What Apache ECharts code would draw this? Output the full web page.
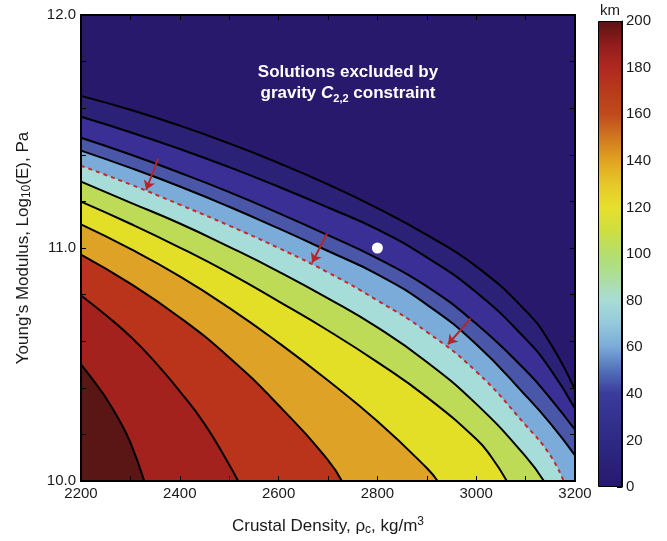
<!DOCTYPE html>
<html>
<head>
<meta charset="utf-8">
<script src="https://cdn.jsdelivr.net/npm/echarts@6/dist/echarts.min.js"></script>
<style>
  html, body { margin: 0; padding: 0; background: #fff; }
  #chart { width: 667px; height: 541px; }
</style>
</head>
<body>
<div id="chart"></div>
<script>
// contour lines: [crustal density, log10(E)], top-right to bottom-left
const lineA = [[2200, 11.653], [2300, 11.593], [2400, 11.525], [2500, 11.449], [2600, 11.365], [2700, 11.273], [2800, 11.171], [2900, 11.056], [3000, 10.921], [3100, 10.731], [3150, 10.591], [3200, 10.391]];
const lineB = [[2200, 11.563], [2300, 11.497], [2400, 11.425], [2500, 11.347], [2600, 11.263], [2700, 11.174], [2800, 11.080], [2900, 10.960], [3000, 10.810], [3100, 10.610], [3150, 10.480], [3200, 10.310]];
const lineC = [[2200, 11.473], [2300, 11.401], [2400, 11.323], [2500, 11.240], [2600, 11.150], [2700, 11.055], [2800, 10.955], [2900, 10.835], [3000, 10.675], [3100, 10.475], [3150, 10.355], [3200, 10.220]];
const lineD = [[2200, 11.418], [2300, 11.344], [2400, 11.264], [2500, 11.177], [2600, 11.084], [2700, 10.987], [2800, 10.887], [2900, 10.757], [3000, 10.587], [3100, 10.367], [3150, 10.247], [3200, 10.110]];
const lineE = [[2200, 11.353], [2300, 11.273], [2400, 11.186], [2500, 11.096], [2600, 11.000], [2700, 10.895], [2800, 10.775], [2900, 10.640], [3000, 10.470], [3100, 10.240], [3150, 10.110], [3177, 10.0]];
const lineF = [[2200, 11.285], [2300, 11.195], [2400, 11.105], [2500, 11.005], [2600, 10.899], [2700, 10.784], [2800, 10.659], [2900, 10.511], [3000, 10.331], [3100, 10.106], [3137, 10.0]];
const lineG = [[2200, 11.199], [2300, 11.104], [2400, 11.002], [2500, 10.892], [2600, 10.771], [2700, 10.646], [2800, 10.510], [2900, 10.360], [3000, 10.180], [3030, 10.105], [3062, 10.0]];
const lineH = [[2200, 11.101], [2300, 10.996], [2400, 10.878], [2500, 10.743], [2600, 10.593], [2700, 10.431], [2800, 10.256], [2900, 10.056], [2922, 10.0]];
const lineI = [[2200, 10.972], [2300, 10.847], [2400, 10.702], [2500, 10.530], [2600, 10.325], [2700, 10.090], [2728, 10.0]];
const lineJ = [[2200, 10.796], [2250, 10.712], [2300, 10.620], [2350, 10.510], [2400, 10.385], [2450, 10.245], [2500, 10.070], [2518, 10.0]];
const lineK = [[2200, 10.501], [2225, 10.432], [2250, 10.358], [2275, 10.270], [2300, 10.165], [2328, 10.0]];

// model point and arrows onto the dashed constraint
const modelPoint = [[2800, 11.0]];
const arrows = [
  [[2356, 11.383], [2332, 11.250]],
  [[2698, 11.062], [2668, 10.938]],
  [[2989, 10.698], [2943, 10.587]]
];

const contours = [lineA, lineB, lineC, lineD, lineE, lineF, lineG, lineH, lineI, lineJ, lineK];
// colour of the band below each contour
const bandColors = ['#2b2176', '#3a2f95', '#4a56a8', '#7aabd9', '#a6ddd8', '#bddb57', '#e3df26', '#dea326', '#b9341a', '#a4221e', '#5a1614'];
const topColor = '#28196c';
const FONT = 'Liberation Sans, Arial, sans-serif';

const chart = echarts.init(document.getElementById('chart'));

const contourSeries = contours.map((pts, i) => ({
  type: 'line',
  xAxisIndex: 0,
  yAxisIndex: 0,
  data: pts,
  smooth: 0.5,
  symbol: 'none',
  silent: true,
  lineStyle: i === 4
    ? { color: '#c8282c', width: 2, type: [4, 4] }
    : { color: '#000', width: 2 },
  areaStyle: { color: bandColors[i], opacity: 1, origin: 'start' },
  z: 2
}));

const colorbarGradient = new echarts.graphic.LinearGradient(0, 1, 0, 0, [
  { offset: 0.0, color: '#26196c' },
  { offset: 0.1, color: '#2e2a84' },
  { offset: 0.2, color: '#3a3b9c' },
  { offset: 0.25, color: '#5270b8' },
  { offset: 0.3, color: '#7aaad8' },
  { offset: 0.35, color: '#94c8dc' },
  { offset: 0.4, color: '#a8dcd6' },
  { offset: 0.45, color: '#acde9c' },
  { offset: 0.5, color: '#b4de6c' },
  { offset: 0.55, color: '#cede40' },
  { offset: 0.6, color: '#e6e02c' },
  { offset: 0.65, color: '#e6c828' },
  { offset: 0.7, color: '#e0a420' },
  { offset: 0.75, color: '#d07820' },
  { offset: 0.8, color: '#c04a1c' },
  { offset: 0.85, color: '#b83a1c' },
  { offset: 0.9, color: '#b02820' },
  { offset: 0.95, color: '#901c1c' },
  { offset: 1.0, color: '#5a1414' }
]);

const tickStyle = { show: true, inside: true, length: 5, lineStyle: { color: '#000', width: 1 } };

const option = {
  animation: false,
  textStyle: { fontFamily: FONT },
  grid: [
    { left: 81, top: 15, width: 494, height: 467, show: true, backgroundColor: topColor, borderWidth: 0 },
    { left: 598, top: 21, width: 24, height: 466 }
  ],
  xAxis: [
    {
      gridIndex: 0, type: 'value', min: 2200, max: 3200, interval: 200, position: 'bottom',
      axisLine: { lineStyle: { color: '#000', width: 2 } },
      axisTick: tickStyle,
      minorTick: { show: true, splitNumber: 2, length: 5, lineStyle: { color: '#000' } },
      splitLine: { show: false },
      axisLabel: { fontSize: 15, color: '#1a1a1a', margin: 5, formatter: v => String(v) },
      name: 'Crustal Density, ρ{sub|c}, kg/m{sup|3}',
      nameLocation: 'middle', nameGap: 35,
      nameTextStyle: {
        fontSize: 17, color: '#1a1a1a',
        rich: {
          sub: { fontSize: 12, verticalAlign: 'bottom', padding: [8, 0, 0, 0] },
          sup: { fontSize: 12, verticalAlign: 'top', padding: [0, 0, 8, 0] }
        }
      },
      z: 5
    },
    {
      gridIndex: 0, type: 'value', min: 2200, max: 3200, interval: 200, position: 'top',
      axisLine: { lineStyle: { color: '#000', width: 2 } },
      axisTick: tickStyle,
      minorTick: { show: true, splitNumber: 2, length: 5, lineStyle: { color: '#000' } },
      splitLine: { show: false },
      axisLabel: { show: false },
      z: 5
    },
    { gridIndex: 1, type: 'category', data: ['km'], show: false }
  ],
  yAxis: [
    {
      gridIndex: 0, type: 'value', min: 10, max: 12, interval: 1, position: 'left',
      axisLine: { show: true, lineStyle: { color: '#000', width: 2 } },
      axisTick: tickStyle,
      minorTick: { show: true, splitNumber: 5, length: 5, lineStyle: { color: '#000' } },
      splitLine: { show: false },
      axisLabel: { fontSize: 15, color: '#1a1a1a', margin: 5, formatter: v => v.toFixed(1) },
      name: "Young's Modulus, Log{sub|10}(E), Pa",
      nameLocation: 'middle', nameGap: 48, nameRotate: 90,
      nameTextStyle: {
        fontSize: 17, color: '#1a1a1a',
        rich: { sub: { fontSize: 12, verticalAlign: 'bottom', padding: [8, 0, 0, 0] } }
      },
      z: 5
    },
    {
      gridIndex: 0, type: 'value', min: 10, max: 12, interval: 1, position: 'right',
      axisLine: { show: true, lineStyle: { color: '#000', width: 2 } },
      axisTick: tickStyle,
      minorTick: { show: true, splitNumber: 5, length: 5, lineStyle: { color: '#000' } },
      splitLine: { show: false },
      axisLabel: { show: false },
      z: 5
    },
    {
      gridIndex: 1, type: 'value', min: 0, max: 200, interval: 20, position: 'right',
      axisLine: { show: true, lineStyle: { color: '#000', width: 1 } },
      axisTick: { show: true, inside: true, length: 5, lineStyle: { color: '#000' } },
      splitLine: { show: false },
      axisLabel: { fontSize: 15, color: '#1a1a1a', margin: 4 }
    }
  ],
  graphic: [
    {
      type: 'text', x: 348, y: 62, z: 100,
      style: {
        text: 'Solutions excluded by\ngravity {i|C}{sub|2,2} constraint',
        fill: '#fff', font: 'bold 17px ' + FONT, align: 'center', lineHeight: 21,
        rich: {
          i: { fontStyle: 'italic', fontWeight: 'bold', fontSize: 17, fill: '#fff', fontFamily: FONT },
          sub: { fontWeight: 'bold', fontSize: 11, fill: '#fff', fontFamily: FONT, verticalAlign: 'bottom', padding: [7, 0, 0, 0] }
        }
      }
    },
    {
      type: 'text', x: 610, y: 3, z: 100,
      style: { text: 'km', fill: '#1a1a1a', font: '15px ' + FONT, align: 'center' }
    }
  ],
  series: [
    ...contourSeries,
    {
      type: 'lines', coordinateSystem: 'cartesian2d', xAxisIndex: 0, yAxisIndex: 0,
      data: arrows.map(c => ({ coords: c })),
      symbol: ['none', 'arrow'], symbolSize: 9,
      lineStyle: { color: '#b3262a', width: 2, opacity: 1 },
      silent: true, z: 6
    },
    {
      type: 'scatter', xAxisIndex: 0, yAxisIndex: 0, data: modelPoint,
      symbolSize: 11, itemStyle: { color: '#fff', opacity: 1 }, silent: true, z: 7
    },
    {
      type: 'bar', xAxisIndex: 2, yAxisIndex: 2, data: [200], barWidth: '100%',
      itemStyle: { color: colorbarGradient, borderColor: '#000', borderWidth: 1 },
      silent: true
    }
  ]
};

chart.setOption(option);
</script>
</body>
</html>
